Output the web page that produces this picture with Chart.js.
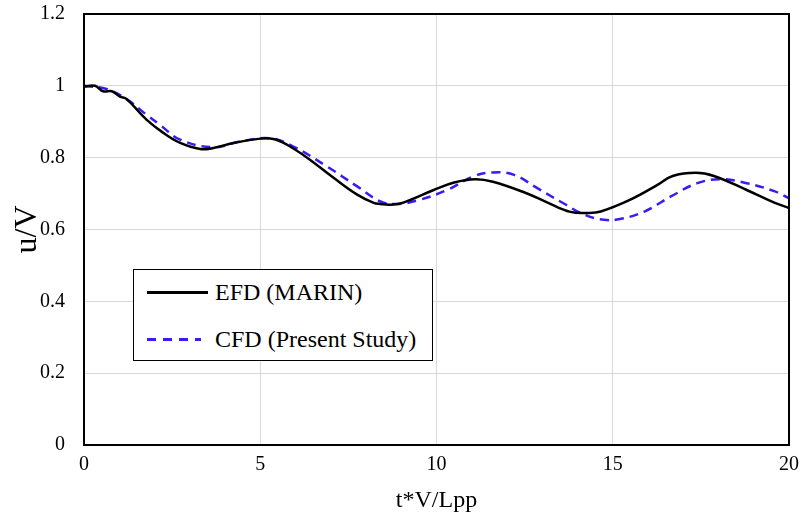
<!DOCTYPE html>
<html>
<head>
<meta charset="utf-8">
<script src="https://cdn.jsdelivr.net/npm/chart.js@4.4.0/dist/chart.umd.min.js"></script>
<style>
body{margin:0;background:#fff}
#wrap{position:relative;width:804px;height:518px}
#legend{position:absolute;left:133px;top:269px;width:298px;height:90px;border:1.5px solid #000;background:#fff;font-family:"Liberation Serif",serif;font-size:24px;color:#000}
.row{position:absolute;left:13px;height:28px;line-height:28px}
.sample{position:absolute;left:0;top:13px;width:61px;height:3px}
.txt{position:absolute;left:68px;top:0;white-space:nowrap}
</style>
</head>
<body>
<div id="wrap">
<canvas id="uvChart" width="804" height="518"></canvas>
<div id="legend">
<div class="row" style="top:8px"><div class="sample" style="background:#000"></div><div class="txt">EFD (MARIN)</div></div>
<div class="row" style="top:55px"><div class="sample" style="width:54px;background:repeating-linear-gradient(90deg,#3a1cf2 0 9px,transparent 9px 16px)"></div><div class="txt">CFD (Present Study)</div></div>
</div>
</div>
<script>
// EFD (MARIN)
const xEfd = [0,0.31,0.54,0.79,1.02,1.21,1.78,2.25,2.73,3.3,3.67,4.24,5.0,5.37,5.76,6.33,7.08,7.75,8.22,8.41,8.69,9.06,9.92,10.5,11.1,11.6,12.5,13.15,13.8,14.3,14.66,15.5,16.27,16.7,17.36,17.87,18.8,19.6,20]
const yEfd = [0.998,1.0,0.985,0.985,0.97,0.963,0.905,0.869,0.841,0.824,0.827,0.841,0.853,0.852,0.836,0.80,0.744,0.697,0.674,0.671,0.669,0.675,0.71,0.731,0.74,0.733,0.703,0.675,0.649,0.646,0.65,0.683,0.724,0.749,0.758,0.749,0.71,0.674,0.66]

// CFD (Present Study)
const xCfd = [0,0.64,1.21,1.78,2.16,2.73,3.67,4.43,5.28,5.94,6.9,7.75,8.41,8.88,9.46,10.3,11.05,11.6,12.2,12.86,13.6,14.2,14.75,15.2,15.9,16.65,17.4,18.07,18.8,19.6,20]
const yCfd = [1.0,0.991,0.963,0.919,0.891,0.85,0.829,0.845,0.854,0.831,0.775,0.72,0.678,0.671,0.681,0.71,0.748,0.759,0.752,0.715,0.673,0.641,0.627,0.629,0.65,0.692,0.729,0.74,0.729,0.706,0.687]

const xTicks = [0,5,10,15,20]
const yTicks = [0,0.2,0.4,0.6,0.8,1,1.2]

function pts(xs, ys){
return xs.map((x,i)=>({x:x,y:ys[i]}))
}

const frame = {
id:"frame",
afterDraw(c){
const a = c.chartArea
const ctx = c.ctx
ctx.save()
ctx.strokeStyle = "#000"
ctx.lineWidth = 2
ctx.strokeRect(a.left, a.top, a.right-a.left, a.bottom-a.top)
ctx.restore()
}
}

const font = "'Liberation Serif', serif"

new Chart(document.getElementById("uvChart"),{
type:"scatter",
data:{
datasets:[
{
label:"EFD (MARIN)",
data:pts(xEfd,yEfd),
showLine:true,
borderColor:"#000",
borderWidth:2.5,
pointRadius:0,
tension:0.4,
fill:false
},
{
label:"CFD (Present Study)",
data:pts(xCfd,yCfd),
showLine:true,
borderColor:"#3a1cf2",
borderWidth:2.5,
borderDash:[9,6],
pointRadius:0,
tension:0.4,
fill:false
}
]
},
options:{
responsive:false,
animation:false,
layout:{padding:{left:0,top:14,right:15,bottom:0}},
plugins:{legend:{display:false},tooltip:{enabled:false}},
scales:{
x:{
type:"linear",
min:0,
max:20,
afterBuildTicks:s=>{s.ticks = xTicks.map(v=>({value:v}))},
afterFit:s=>{s.height = 73; s.paddingLeft = 0; s.paddingRight = 0},
grid:{color:"#d9d9d9",lineWidth:1,drawTicks:false},
border:{display:false},
ticks:{padding:8,color:"#000",font:{family:font,size:20}},
title:{display:true,text:"t*V/Lpp",color:"#000",font:{family:font,size:24},padding:{top:0,bottom:3}}
},
y:{
min:0,
max:1.2,
afterBuildTicks:s=>{s.ticks = yTicks.map(v=>({value:v}))},
afterFit:s=>{s.width = 84; s.paddingTop = 0; s.paddingBottom = 0},
grid:{color:"#d9d9d9",lineWidth:1,drawTicks:false},
border:{display:false},
ticks:{padding:19,color:"#000",font:{family:font,size:20},callback:v=>String(Math.round(v*10)/10)},
title:{display:true,text:"u/V",color:"#000",font:{family:font,size:32},padding:{top:8,bottom:0}}
}
}
},
plugins:[frame]
})
</script>
</body>
</html>
